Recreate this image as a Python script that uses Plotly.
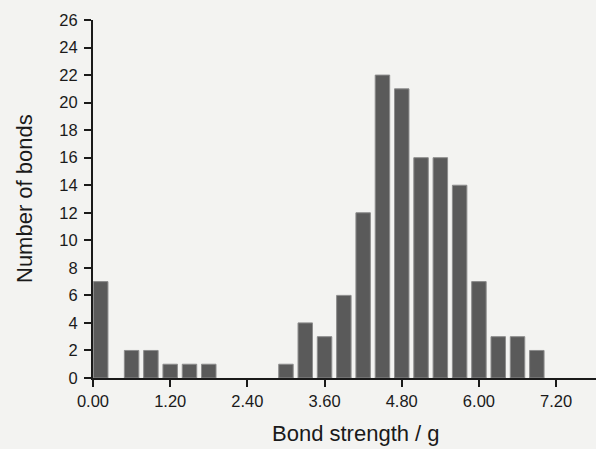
import plotly.graph_objects as go

# Bin centres (bond strength, g) and counts
strength = [0.12, 0.6, 0.9, 1.2, 1.5, 1.8,
            3.0, 3.3, 3.6, 3.9, 4.2, 4.5, 4.8, 5.1, 5.4, 5.7, 6.0, 6.3, 6.6, 6.9]
counts = [7, 2, 2, 1, 1, 1,
          1, 4, 3, 6, 12, 22, 21, 16, 16, 14, 7, 3, 3, 2]

x_ticks = [0.0, 1.2, 2.4, 3.6, 4.8, 6.0, 7.2]
y_ticks = list(range(0, 27, 2))

FONT = "Liberation Sans, Arial, Helvetica, sans-serif"
BG = "#f3f3f1"

fig = go.Figure(go.Bar(
    x=strength, y=counts, width=0.225,
    marker=dict(color="#5a5a5a", line=dict(color="#8c8c8c", width=1)),
))

fig.update_layout(
    width=596, height=449,
    margin=dict(l=93, r=0, t=20, b=71),
    paper_bgcolor=BG, plot_bgcolor=BG,
    showlegend=False,
    font=dict(family=FONT, color="#1a1a1a"),
    xaxis=dict(range=[0, 7.82], tickvals=x_ticks, tickformat=".2f",
               showgrid=False, zeroline=False, showline=True,
               linecolor="#1a1a1a", linewidth=2,
               ticks="outside", ticklen=7, tickwidth=2, tickcolor="#1a1a1a",
               tickfont=dict(size=16.5, family=FONT)),
    yaxis=dict(range=[0, 26], tickvals=y_ticks,
               showgrid=False, zeroline=False, showline=True,
               linecolor="#1a1a1a", linewidth=2,
               ticks="outside", ticklen=7, tickwidth=2, tickcolor="#1a1a1a",
               ticklabelstandoff=3,
               tickfont=dict(size=16.5, family=FONT)),
    annotations=[
        dict(text="Bond strength / g", xref="paper", yref="paper",
             x=(356 - 93) / 503, y=-(434 - 378.3) / 358.3,
             xanchor="center", yanchor="middle", showarrow=False,
             font=dict(size=22, family=FONT, color="#1a1a1a")),
        dict(text="Number of bonds", xref="paper", yref="paper",
             x=-(93 - 24) / 503, y=0.5, textangle=-90,
             xanchor="center", yanchor="middle", showarrow=False,
             font=dict(size=22, family=FONT, color="#1a1a1a")),
    ],
)

fig.write_html("out.html")
